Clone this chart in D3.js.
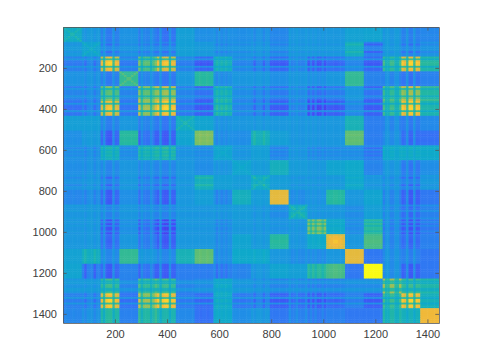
<!DOCTYPE html>
<html>
<head>
<meta charset="utf-8">
<script src="https://d3js.org/d3.v7.min.js"></script>
<style>
html, body { margin: 0; background: #fff; }
svg { display: block; }
text { font-family: "Liberation Sans", sans-serif; font-size: 11px; fill: #404040; }
</style>
</head>
<body>
<div id="chart"></div>
<script>
const tickValues = [200, 400, 600, 800, 1000, 1200, 1400];
const frameCount = 1444;

// block vs block level, upper triangle only (20 blocks of about 72 frames)
const blockUpper = [
  [.42,.33,.27,.31,.27,.25,.36,.30,.30,.30,.30,.27,.33,.33,.33,.37,.38,.33,.28,.27],
  [.38,.28,.31,.28,.28,.36,.34,.30,.31,.32,.28,.33,.33,.33,.44,.22,.33,.28,.30],
  [.60,.27,.50,.58,.28,.22,.42,.30,.27,.22,.30,.24,.24,.30,.22,.46,.60,.46],
  [.52,.27,.26,.33,.50,.30,.33,.33,.30,.33,.31,.33,.52,.26,.28,.25,.25],
  [.55,.56,.27,.22,.44,.30,.27,.24,.30,.24,.25,.33,.22,.48,.56,.48],
  [.60,.26,.22,.44,.30,.27,.22,.30,.22,.22,.30,.22,.46,.60,.44],
  [.42,.38,.32,.33,.33,.33,.33,.33,.33,.45,.24,.28,.27,.28],
  [.62,.30,.30,.45,.36,.33,.33,.33,.58,.24,.30,.24,.20],
  [.38,.33,.36,.28,.33,.30,.30,.30,.24,.40,.40,.40],
  [.38,.35,.43,.35,.34,.38,.40,.27,.33,.27,.30],
  [.42,.35,.33,.33,.34,.40,.33,.31,.27,.33],
  [.78,.30,.32,.50,.33,.38,.28,.22,.22],
  [.42,.33,.33,.30,.36,.30,.26,.27],
  [.54,.40,.30,.48,.28,.24,.25],
  [.78,.33,.55,.28,.24,.25],
  [.78,.22,.30,.28,.22],
  [1,.30,.22,.22],
  [.56,.46,.46],
  [.60,.42],
  [.80]
];

// stripes inside each block, 8 steps per block
const blockStripes = [
  [1.1,.9,1,1,.9,1,1,1],
  [.8,1.4,.8,.7,.7,1.4,.8,.8],
  [1.25,.5,1.4,1.5,1.5,.5,1.3,1.25],
  [1,1,1,1,1,1,1,1],
  [1.35,.55,1.05,1.1,1.1,.55,1,1.4],
  [1.4,.5,1.4,1.5,1.5,.5,1.35,1.35],
  [1,1,1,1,1,1,1,1],
  [1,1,1.05,1,1,1.05,1,1],
  [.7,1.4,.8,1.3,.9,1.3,.8,1],
  [1,1,1.1,1.1,1.1,1.1,1,1],
  [.8,1.4,.8,.8,.8,1.4,.8,.8],
  [1,1,1,1,1,1,1,1],
  [.7,1.2,1.1,.7,1.2,1.2,1.2,.7],
  [1.25,.8,1.25,.8,1.25,1.25,.85,1.25],
  [.95,1,1,1.05,1.05,1,1,.95],
  [1,1,1,1,1,1,1,1],
  [1,1,1,1,1,1,1,1],
  [1.3,.6,.6,1.25,1.25,.6,.6,1.3],
  [1.4,1.25,.5,1.5,1.5,.5,1.4,1.35],
  [1,1,1,1,1,1,1,1]
];

// extra brightness on the X of the diagonal blocks
const blockCross = [.05,.04,0,.05,0,0,.05,0,.02,.02,.04,0,.05,0,.02,0,0,0,0,0];

const parulaStops = [0,.1,.2,.3,.4,.5,.6,.7,.8,.9,1];
const parulaColors = ["#3e26a8","#4743f7","#3473f5","#2090e6","#0fa9cb","#25b8a0","#6cc06a","#b4bd4d","#f0b93a","#fed52b","#f9fb15"];

const stepsPerBlock = 8;
const base = 0.37;
const width = 485, height = 363;
const margin = {left: 63, right: 46, top: 27, bottom: 40};

const blockMatrix = blockUpper.map((row, i) => d3.range(20).map(j => i <= j ? row[j - i] : blockUpper[j][i - j]));

const cells = [];
d3.range(20 * stepsPerBlock).forEach(r => {
  d3.range(20 * stepsPerBlock).forEach(c => {
    let bi = Math.floor(r / stepsPerBlock), bj = Math.floor(c / stepsPerBlock);
    let si = r % stepsPerBlock, sj = c % stepsPerBlock;
    let val = base + (blockMatrix[bi][bj] - base) * blockStripes[bi][si] * blockStripes[bj][sj];
    if (bi === bj && (si === sj || si + sj === stepsPerBlock - 1)) val += blockCross[bi];
    cells.push({r, c, val});
  });
});

const x = d3.scaleLinear().domain([0.5, frameCount + 0.5]).range([margin.left, width - margin.right]);
const y = d3.scaleLinear().domain([0.5, frameCount + 0.5]).range([margin.top, height - margin.bottom]);
const xBand = d3.scaleBand().domain(d3.range(20 * stepsPerBlock)).range(x.range());
const yBand = d3.scaleBand().domain(d3.range(20 * stepsPerBlock)).range(y.range());
const color = d3.scaleLinear().domain(parulaStops).range(parulaColors).clamp(true);

const svg = d3.select("#chart").append("svg").attr("width", width).attr("height", height);
const defs = svg.append("defs");
defs.append("clipPath").attr("id", "plot-clip").append("rect")
  .attr("x", x.range()[0]).attr("y", y.range()[0])
  .attr("width", x.range()[1] - x.range()[0]).attr("height", y.range()[1] - y.range()[0]);
const blur = defs.append("filter").attr("id", "soft")
  .attr("filterUnits", "userSpaceOnUse")
  .attr("x", 0).attr("y", 0).attr("width", width).attr("height", height)
  .attr("color-interpolation-filters", "sRGB");
blur.append("feGaussianBlur").attr("stdDeviation", 0.6).attr("edgeMode", "duplicate");

svg.append("g").attr("clip-path", "url(#plot-clip)")
  .append("g").attr("filter", "url(#soft)")
  .selectAll("rect").data(cells).enter().append("rect")
  .attr("x", d => xBand(d.c))
  .attr("y", d => yBand(d.r))
  .attr("width", xBand.bandwidth() + 0.5)
  .attr("height", yBand.bandwidth() + 0.5)
  .attr("fill", d => color(d.val));

// axes: ticks point inward on all four sides, like a boxed plot
function styleAxis(g) {
  g.selectAll("path, line").attr("stroke", "#555").attr("stroke-width", 0.8);
  g.selectAll("text").attr("fill", "#404040");
}
svg.append("g").attr("transform", `translate(0,${y.range()[1]})`)
  .call(d3.axisBottom(x).tickValues(tickValues).tickSizeInner(-3.7).tickSizeOuter(0).tickPadding(7).tickFormat(d3.format("d")))
  .call(styleAxis);
svg.append("g").attr("transform", `translate(${x.range()[0]},0)`)
  .call(d3.axisLeft(y).tickValues(tickValues).tickSizeInner(-3.7).tickSizeOuter(0).tickPadding(6).tickFormat(d3.format("d")))
  .call(styleAxis);
svg.append("g").attr("transform", `translate(0,${y.range()[0]})`)
  .call(d3.axisTop(x).tickValues(tickValues).tickSizeInner(-3.7).tickSizeOuter(0).tickFormat(""))
  .call(styleAxis);
svg.append("g").attr("transform", `translate(${x.range()[1]},0)`)
  .call(d3.axisRight(y).tickValues(tickValues).tickSizeInner(-3.7).tickSizeOuter(0).tickFormat(""))
  .call(styleAxis);
</script>
</body>
</html>
